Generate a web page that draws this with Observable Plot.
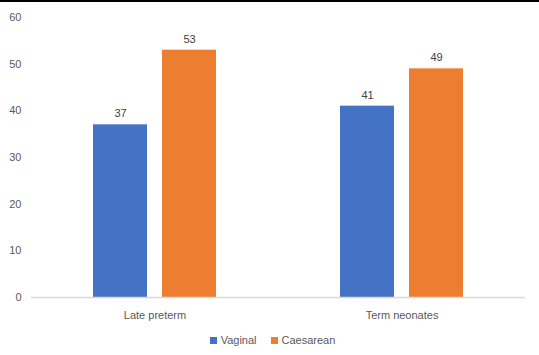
<!DOCTYPE html>
<html>
<head>
<meta charset="utf-8">
<script src="https://cdn.jsdelivr.net/npm/d3@7"></script>
<script src="https://cdn.jsdelivr.net/npm/@observablehq/plot@0.6"></script>
<style>
  html, body { margin: 0; padding: 0; background: #fff; }
  body { width: 539px; height: 355px; overflow: hidden; border-top: 2px solid #000; box-sizing: border-box; font-family: "Liberation Sans", Arial, sans-serif; }
  #legend { display: flex; justify-content: center; align-items: center; gap: 14px; font-size: 11px; color: #595959; height: 26px; margin-left: 6px; }
  #legend .item { display: flex; align-items: center; gap: 4px; }
  #legend .sw { width: 7px; height: 7px; display: inline-block; }
</style>
</head>
<body>
<div id="chart"></div>
<div id="legend"></div>
<script>
const categories = ["Late preterm", "Term neonates"];
const series = ["Vaginal", "Caesarean"];
const vaginal = [37, 41];
const caesarean = [53, 49];
const yTicks = [0, 10, 20, 30, 40, 50, 60];
const colors = ["#4472C4", "#ED7D31"];

const data = [];
categories.forEach((c, i) => {
  data.push({category: c, series: series[0], value: vaginal[i]});
  data.push({category: c, series: series[1], value: caesarean[i]});
});

const chart = Plot.plot({
  width: 539,
  height: 325,
  marginTop: 15,
  marginBottom: 30,
  marginLeft: 30,
  marginRight: 14,
  style: {fontFamily: "Liberation Sans, Arial, sans-serif", fontSize: "11px", color: "#595959", background: "#fff"},
  fx: {domain: categories, padding: 0, label: null, axis: "bottom", tickSize: 0, tickPadding: 14},
  x: {domain: series, paddingInner: 0.214, paddingOuter: 0.875, axis: null},
  y: {domain: [0, 60], ticks: yTicks, label: null, tickSize: 0, tickPadding: 10},
  color: {domain: series, range: colors},
  marks: [
    Plot.barY(data, {fx: "category", x: "series", y: "value", fill: "series"}),
    Plot.ruleY([0], {stroke: "#d9d9d9", strokeWidth: 1.5}),
    Plot.text(data, {fx: "category", x: "series", y: "value", text: d => String(d.value), dy: -11, fill: "#404040", fontSize: 11})
  ]
});
document.getElementById("chart").appendChild(chart);

const legend = document.getElementById("legend");
series.forEach((s, i) => {
  const item = document.createElement("span");
  item.className = "item";
  const sw = document.createElement("span");
  sw.className = "sw";
  sw.style.background = colors[i];
  item.appendChild(sw);
  item.appendChild(document.createTextNode(s));
  legend.appendChild(item);
});
</script>
</body>
</html>
